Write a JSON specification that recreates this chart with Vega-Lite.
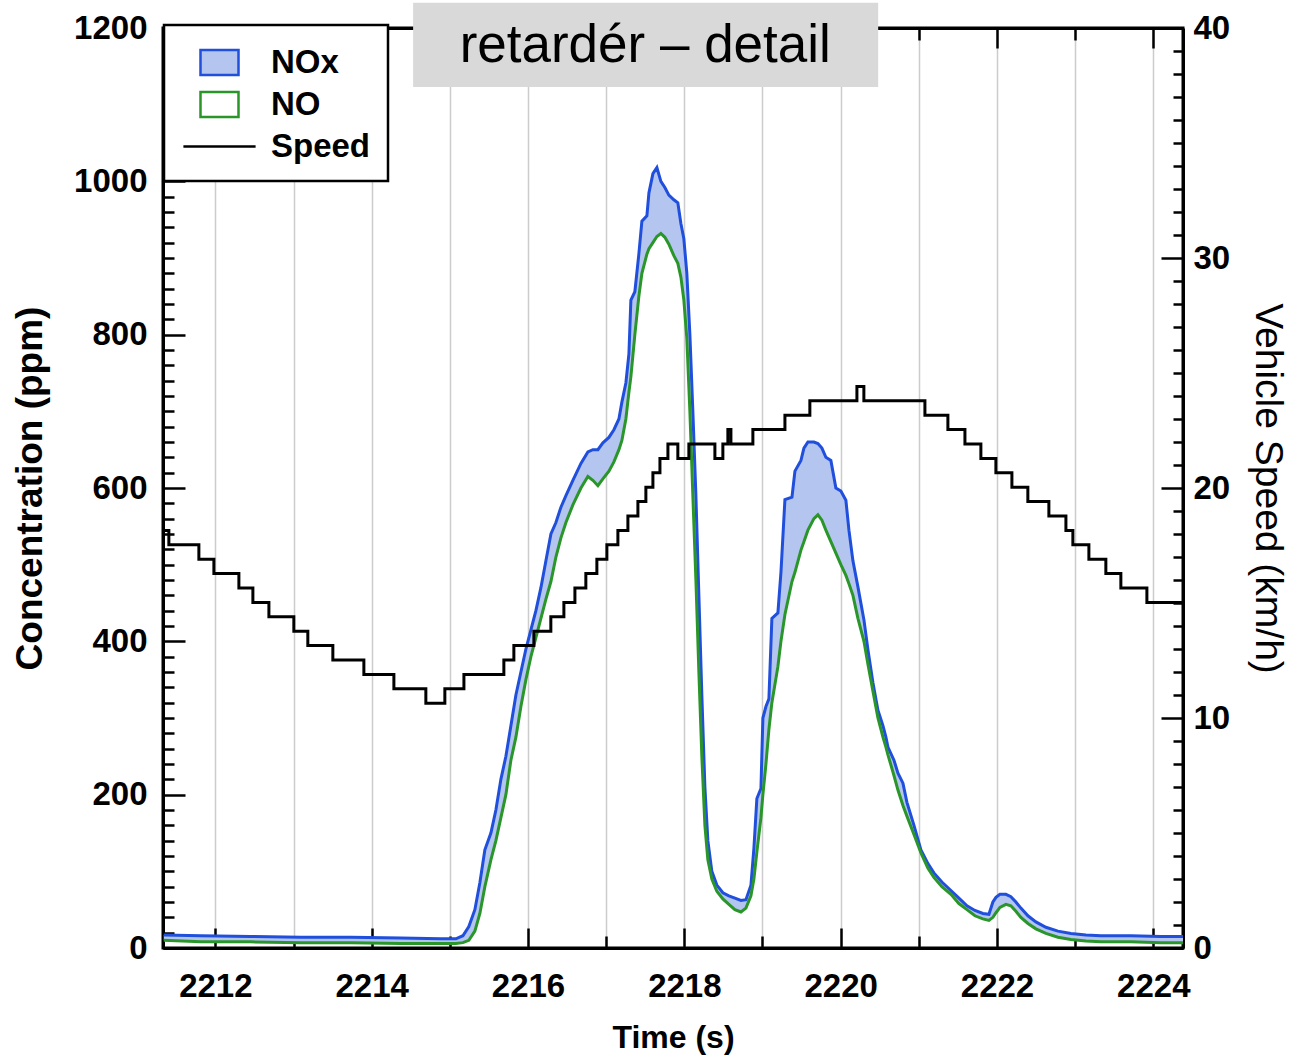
{
  "$schema": "https://vega.github.io/schema/vega-lite/v6.json",
  "width": 1020,
  "height": 920,
  "autosize": "none",
  "padding": {"left": 163, "top": 28, "right": 109, "bottom": 109},
  "background": "white",
  "config": {
    "view": {"stroke": "black", "strokeWidth": 3},
    "font": "Liberation Sans",
    "axis": {
      "labelFont": "Liberation Sans", "labelFontWeight": "bold", "labelFontSize": 33, "labelColor": "black",
      "titleFont": "Liberation Sans", "titleFontWeight": "bold", "titleColor": "black",
      "domainColor": "black", "domainWidth": 3, "tickColor": "black", "tickWidth": 2.5,
      "labelOverlap": false, "labelFlush": false, "grid": false
    },
    "legend": {"strokeWidth": 2.5}
  },
  "datasets": {
    "conc": [
      {"t": 2211.34, "NOx": 17, "NO": 10},
      {"t": 2211.814, "NOx": 16, "NO": 8},
      {"t": 2212.454, "NOx": 15, "NO": 8},
      {"t": 2213.094, "NOx": 14, "NO": 7},
      {"t": 2213.734, "NOx": 14, "NO": 7},
      {"t": 2214.373, "NOx": 13, "NO": 6},
      {"t": 2214.885, "NOx": 12, "NO": 6},
      {"t": 2215.077, "NOx": 12, "NO": 6},
      {"t": 2215.167, "NOx": 16, "NO": 7},
      {"t": 2215.243, "NOx": 28, "NO": 10},
      {"t": 2215.32, "NOx": 50, "NO": 22},
      {"t": 2215.384, "NOx": 85, "NO": 45},
      {"t": 2215.448, "NOx": 128, "NO": 80},
      {"t": 2215.525, "NOx": 150, "NO": 115},
      {"t": 2215.589, "NOx": 180, "NO": 140},
      {"t": 2215.653, "NOx": 220, "NO": 170},
      {"t": 2215.717, "NOx": 250, "NO": 200},
      {"t": 2215.781, "NOx": 290, "NO": 245},
      {"t": 2215.845, "NOx": 330, "NO": 275},
      {"t": 2215.909, "NOx": 360, "NO": 315},
      {"t": 2215.973, "NOx": 390, "NO": 350},
      {"t": 2216.037, "NOx": 415, "NO": 380},
      {"t": 2216.101, "NOx": 440, "NO": 405},
      {"t": 2216.165, "NOx": 470, "NO": 430},
      {"t": 2216.229, "NOx": 505, "NO": 455},
      {"t": 2216.293, "NOx": 540, "NO": 478},
      {"t": 2216.357, "NOx": 555, "NO": 510},
      {"t": 2216.421, "NOx": 575, "NO": 535},
      {"t": 2216.485, "NOx": 590, "NO": 555},
      {"t": 2216.574, "NOx": 610, "NO": 578},
      {"t": 2216.677, "NOx": 632, "NO": 600},
      {"t": 2216.766, "NOx": 647, "NO": 615},
      {"t": 2216.83, "NOx": 650, "NO": 610},
      {"t": 2216.894, "NOx": 650, "NO": 603},
      {"t": 2216.958, "NOx": 659, "NO": 612},
      {"t": 2217.035, "NOx": 666, "NO": 622},
      {"t": 2217.099, "NOx": 676, "NO": 634},
      {"t": 2217.163, "NOx": 690, "NO": 650},
      {"t": 2217.201, "NOx": 712, "NO": 662},
      {"t": 2217.252, "NOx": 737, "NO": 690},
      {"t": 2217.291, "NOx": 775, "NO": 725},
      {"t": 2217.316, "NOx": 845, "NO": 745},
      {"t": 2217.367, "NOx": 856, "NO": 800},
      {"t": 2217.418, "NOx": 905, "NO": 850},
      {"t": 2217.457, "NOx": 948, "NO": 880},
      {"t": 2217.521, "NOx": 955, "NO": 905},
      {"t": 2217.547, "NOx": 985, "NO": 912},
      {"t": 2217.598, "NOx": 1010, "NO": 920},
      {"t": 2217.649, "NOx": 1018, "NO": 928},
      {"t": 2217.7, "NOx": 1000, "NO": 932},
      {"t": 2217.751, "NOx": 992, "NO": 927},
      {"t": 2217.802, "NOx": 982, "NO": 918},
      {"t": 2217.866, "NOx": 976, "NO": 903},
      {"t": 2217.917, "NOx": 972, "NO": 893},
      {"t": 2217.956, "NOx": 945, "NO": 875},
      {"t": 2217.994, "NOx": 925, "NO": 845},
      {"t": 2218.032, "NOx": 880, "NO": 795},
      {"t": 2218.071, "NOx": 800, "NO": 700},
      {"t": 2218.109, "NOx": 700, "NO": 590},
      {"t": 2218.148, "NOx": 590, "NO": 480},
      {"t": 2218.186, "NOx": 460, "NO": 360},
      {"t": 2218.224, "NOx": 330, "NO": 250},
      {"t": 2218.263, "NOx": 210, "NO": 160},
      {"t": 2218.301, "NOx": 140, "NO": 115},
      {"t": 2218.352, "NOx": 100, "NO": 90},
      {"t": 2218.416, "NOx": 82, "NO": 74},
      {"t": 2218.493, "NOx": 72, "NO": 64},
      {"t": 2218.57, "NOx": 68, "NO": 57},
      {"t": 2218.647, "NOx": 65, "NO": 50},
      {"t": 2218.724, "NOx": 62, "NO": 47},
      {"t": 2218.788, "NOx": 63, "NO": 52},
      {"t": 2218.852, "NOx": 82, "NO": 68},
      {"t": 2218.89, "NOx": 130, "NO": 90},
      {"t": 2218.928, "NOx": 195, "NO": 125},
      {"t": 2218.98, "NOx": 208, "NO": 170},
      {"t": 2219.005, "NOx": 300, "NO": 200},
      {"t": 2219.044, "NOx": 315, "NO": 240},
      {"t": 2219.082, "NOx": 325, "NO": 285},
      {"t": 2219.12, "NOx": 430, "NO": 320},
      {"t": 2219.197, "NOx": 437, "NO": 367},
      {"t": 2219.236, "NOx": 490, "NO": 400},
      {"t": 2219.287, "NOx": 585, "NO": 435},
      {"t": 2219.377, "NOx": 588, "NO": 478},
      {"t": 2219.415, "NOx": 622, "NO": 490},
      {"t": 2219.492, "NOx": 636, "NO": 519},
      {"t": 2219.53, "NOx": 652, "NO": 530},
      {"t": 2219.581, "NOx": 660, "NO": 545},
      {"t": 2219.658, "NOx": 660, "NO": 560},
      {"t": 2219.709, "NOx": 658, "NO": 565},
      {"t": 2219.76, "NOx": 652, "NO": 558},
      {"t": 2219.811, "NOx": 640, "NO": 545},
      {"t": 2219.875, "NOx": 636, "NO": 530},
      {"t": 2219.939, "NOx": 600, "NO": 515},
      {"t": 2220.003, "NOx": 596, "NO": 500},
      {"t": 2220.067, "NOx": 584, "NO": 486},
      {"t": 2220.106, "NOx": 545, "NO": 475},
      {"t": 2220.157, "NOx": 505, "NO": 460},
      {"t": 2220.221, "NOx": 471, "NO": 430},
      {"t": 2220.298, "NOx": 428, "NO": 400},
      {"t": 2220.349, "NOx": 389, "NO": 370},
      {"t": 2220.413, "NOx": 346, "NO": 335},
      {"t": 2220.477, "NOx": 310, "NO": 300},
      {"t": 2220.541, "NOx": 290, "NO": 275},
      {"t": 2220.579, "NOx": 275, "NO": 262},
      {"t": 2220.605, "NOx": 262, "NO": 252},
      {"t": 2220.682, "NOx": 245, "NO": 225},
      {"t": 2220.733, "NOx": 228, "NO": 206},
      {"t": 2220.797, "NOx": 215, "NO": 186},
      {"t": 2220.848, "NOx": 190, "NO": 172},
      {"t": 2220.938, "NOx": 160, "NO": 148},
      {"t": 2221.027, "NOx": 128, "NO": 124},
      {"t": 2221.117, "NOx": 110, "NO": 104},
      {"t": 2221.193, "NOx": 98, "NO": 92},
      {"t": 2221.295, "NOx": 86, "NO": 80},
      {"t": 2221.411, "NOx": 75, "NO": 70},
      {"t": 2221.513, "NOx": 65, "NO": 58},
      {"t": 2221.616, "NOx": 55, "NO": 50},
      {"t": 2221.718, "NOx": 49, "NO": 42},
      {"t": 2221.82, "NOx": 45, "NO": 38},
      {"t": 2221.897, "NOx": 44, "NO": 36},
      {"t": 2221.948, "NOx": 60, "NO": 40},
      {"t": 2221.987, "NOx": 66, "NO": 46},
      {"t": 2222.038, "NOx": 70, "NO": 53},
      {"t": 2222.114, "NOx": 70, "NO": 57},
      {"t": 2222.178, "NOx": 67, "NO": 55},
      {"t": 2222.242, "NOx": 60, "NO": 48},
      {"t": 2222.306, "NOx": 52, "NO": 40},
      {"t": 2222.396, "NOx": 42, "NO": 32},
      {"t": 2222.498, "NOx": 34, "NO": 25},
      {"t": 2222.626, "NOx": 27, "NO": 19},
      {"t": 2222.78, "NOx": 22, "NO": 14},
      {"t": 2222.946, "NOx": 19, "NO": 11},
      {"t": 2223.138, "NOx": 17, "NO": 9},
      {"t": 2223.33, "NOx": 16, "NO": 8},
      {"t": 2223.714, "NOx": 16, "NO": 8},
      {"t": 2224.097, "NOx": 15, "NO": 7},
      {"t": 2224.38, "NOx": 15, "NO": 7}
    ],
    "speed": [
      {"t": 2211.33, "speed": 18.15},
      {"t": 2211.405, "speed": 17.53},
      {"t": 2211.789, "speed": 16.9},
      {"t": 2211.981, "speed": 16.28},
      {"t": 2212.301, "speed": 15.65},
      {"t": 2212.48, "speed": 15.02},
      {"t": 2212.685, "speed": 14.4},
      {"t": 2213.004, "speed": 13.77},
      {"t": 2213.183, "speed": 13.15},
      {"t": 2213.503, "speed": 12.52},
      {"t": 2213.9, "speed": 11.89},
      {"t": 2214.284, "speed": 11.27},
      {"t": 2214.693, "speed": 10.64},
      {"t": 2214.936, "speed": 11.27},
      {"t": 2215.18, "speed": 11.89},
      {"t": 2215.691, "speed": 12.52},
      {"t": 2215.819, "speed": 13.15},
      {"t": 2216.075, "speed": 13.77},
      {"t": 2216.292, "speed": 14.4},
      {"t": 2216.459, "speed": 15.02},
      {"t": 2216.6, "speed": 15.65},
      {"t": 2216.74, "speed": 16.28},
      {"t": 2216.881, "speed": 16.9},
      {"t": 2217.009, "speed": 17.53},
      {"t": 2217.15, "speed": 18.15},
      {"t": 2217.278, "speed": 18.78},
      {"t": 2217.406, "speed": 19.41},
      {"t": 2217.508, "speed": 20.03},
      {"t": 2217.598, "speed": 20.66},
      {"t": 2217.688, "speed": 21.28},
      {"t": 2217.79, "speed": 21.91},
      {"t": 2217.917, "speed": 21.28},
      {"t": 2218.058, "speed": 21.91},
      {"t": 2218.391, "speed": 21.28},
      {"t": 2218.493, "speed": 21.91},
      {"t": 2218.557, "speed": 22.54},
      {"t": 2218.596, "speed": 21.91},
      {"t": 2218.877, "speed": 22.54},
      {"t": 2219.287, "speed": 23.16},
      {"t": 2219.606, "speed": 23.79},
      {"t": 2220.208, "speed": 24.41},
      {"t": 2220.297, "speed": 23.79},
      {"t": 2221.078, "speed": 23.16},
      {"t": 2221.372, "speed": 22.54},
      {"t": 2221.59, "speed": 21.91},
      {"t": 2221.794, "speed": 21.28},
      {"t": 2221.986, "speed": 20.66},
      {"t": 2222.191, "speed": 20.03},
      {"t": 2222.395, "speed": 19.41},
      {"t": 2222.664, "speed": 18.78},
      {"t": 2222.882, "speed": 18.15},
      {"t": 2222.971, "speed": 17.53},
      {"t": 2223.176, "speed": 16.9},
      {"t": 2223.393, "speed": 16.28},
      {"t": 2223.585, "speed": 15.65},
      {"t": 2223.918, "speed": 15.02},
      {"t": 2224.38, "speed": 15.02}
    ]
  },
  "resolve": {"scale": {"y": "independent"}},
  "layer": [
    {
      "data": {"name": "conc"},
      "mark": {"type": "area", "opacity": 1},
      "encoding": {
        "x": {
          "field": "t", "type": "quantitative",
          "scale": {"domain": [2211.33, 2224.38], "nice": false, "zero": false},
          "axis": {
            "orient": "bottom",
            "values": [2212, 2213, 2214, 2215, 2216, 2217, 2218, 2219, 2220, 2221, 2222, 2223, 2224],
            "format": "d",
            "labelExpr": "datum.value % 2 === 0 ? datum.label : ''",
            "tickSize": {"condition": {"test": "datum.value % 2 === 0", "value": -20}, "value": -12},
            "labelPadding": 42,
            "title": "Time (s)", "titleFontSize": 32, "titlePadding": 11,
            "grid": true, "gridColor": "#cccccc", "gridWidth": 1.5
          }
        },
        "y": {
          "field": "NOx", "type": "quantitative",
          "scale": {"domain": [0, 1200], "nice": false, "zero": false},
          "axis": {
            "orient": "left",
            "values": [0, 20, 40, 60, 80, 100, 120, 140, 160, 180, 200, 220, 240, 260, 280, 300, 320, 340, 360, 380, 400, 420, 440, 460, 480, 500, 520, 540, 560, 580, 600, 620, 640, 660, 680, 700, 720, 740, 760, 780, 800, 820, 840, 860, 880, 900, 920, 940, 960, 980, 1000, 1020, 1040, 1060, 1080, 1100, 1120, 1140, 1160, 1180, 1200],
            "format": "d",
            "labelExpr": "datum.value % 200 === 0 ? datum.label : ''",
            "tickSize": {"condition": {"test": "datum.value % 200 === 0", "value": -22}, "value": -11},
            "labelPadding": 38,
            "title": "Concentration (ppm)", "titleFontSize": 37, "titlePadding": 24
          }
        },
        "y2": {"field": "NO"},
        "fill": {
          "datum": "NOx", "type": "nominal",
          "scale": {"domain": ["NOx", "NO", "Speed"], "range": ["#b4c5ef", "#ffffff", "#ffffff"]},
          "legend": {
            "title": null, "orient": "none", "legendX": 1, "legendY": -3, "direction": "vertical",
            "symbolType": {"expr": "datum.value === 'Speed' ? 'M-1.9,0H1.9' : 'M-1,-0.66H1V0.66H-1Z'"},
            "symbolSize": 1444, "symbolStrokeWidth": 2.5, "symbolOffset": 18,
            "labelFont": "Liberation Sans", "labelFontSize": 33, "labelFontWeight": "bold", "labelColor": "black",
            "labelOffset": 31, "padding": 17, "rowPadding": 3,
            "strokeColor": "black", "fillColor": "white"
          }
        }
      }
    },
    {
      "data": {"name": "conc"},
      "mark": {"type": "line", "strokeWidth": 3},
      "encoding": {
        "x": {
          "field": "t", "type": "quantitative",
          "axis": {
            "orient": "top",
            "values": [2212, 2213, 2214, 2215, 2216, 2217, 2218, 2219, 2220, 2221, 2222, 2223, 2224],
            "labels": false, "title": null, "grid": false,
            "tickSize": {"condition": {"test": "datum.value % 2 === 0", "value": -20}, "value": -12}
          }
        },
        "y": {"field": "NOx", "type": "quantitative", "scale": {"domain": [0, 1200], "nice": false, "zero": false}, "axis": null},
        "stroke": {
          "datum": "NOx", "type": "nominal",
          "scale": {"domain": ["NOx", "NO", "Speed"], "range": ["#1f4fdc", "#2a962a", "#000000"]},
          "legend": {
            "title": null, "orient": "none", "legendX": 1, "legendY": -3, "direction": "vertical",
            "symbolType": {"expr": "datum.value === 'Speed' ? 'M-1.9,0H1.9' : 'M-1,-0.66H1V0.66H-1Z'"},
            "symbolSize": 1444, "symbolStrokeWidth": 2.5, "symbolOffset": 18,
            "labelFont": "Liberation Sans", "labelFontSize": 33, "labelFontWeight": "bold", "labelColor": "black",
            "labelOffset": 31, "padding": 17, "rowPadding": 3,
            "strokeColor": "black", "fillColor": "white"
          }
        }
      }
    },
    {
      "data": {"name": "conc"},
      "mark": {"type": "line", "strokeWidth": 3},
      "encoding": {
        "x": {"field": "t", "type": "quantitative", "axis": null},
        "y": {"field": "NO", "type": "quantitative", "scale": {"domain": [0, 1200], "nice": false, "zero": false}, "axis": null},
        "stroke": {"datum": "NO", "type": "nominal"}
      }
    },
    {
      "data": {"values": [{}]},
      "mark": {"type": "rect", "color": "#d9d9d9", "opacity": 1},
      "encoding": {
        "x": {"datum": 2214.53, "type": "quantitative", "axis": null},
        "x2": {"datum": 2220.48},
        "y": {"datum": 1123, "type": "quantitative", "scale": {"domain": [0, 1200], "nice": false, "zero": false}, "axis": null},
        "y2": {"datum": 1233}
      }
    },
    {
      "data": {"values": [{}]},
      "mark": {"type": "text", "text": "retardér – detail", "font": "Liberation Sans", "fontSize": 53, "color": "black", "align": "center", "baseline": "middle"},
      "encoding": {
        "x": {"datum": 2217.5, "type": "quantitative", "axis": null},
        "y": {"datum": 1177, "type": "quantitative", "scale": {"domain": [0, 1200], "nice": false, "zero": false}, "axis": null}
      }
    },
    {
      "data": {"name": "speed"},
      "mark": {"type": "line", "interpolate": "step-after", "strokeWidth": 3},
      "encoding": {
        "x": {"field": "t", "type": "quantitative", "axis": null},
        "y": {
          "field": "speed", "type": "quantitative",
          "scale": {"domain": [0, 40], "nice": false, "zero": false},
          "axis": {
            "orient": "right",
            "values": [0, 1, 2, 3, 4, 5, 6, 7, 8, 9, 10, 11, 12, 13, 14, 15, 16, 17, 18, 19, 20, 21, 22, 23, 24, 25, 26, 27, 28, 29, 30, 31, 32, 33, 34, 35, 36, 37, 38, 39, 40],
            "format": "d",
            "labelExpr": "datum.value % 10 === 0 ? datum.label : ''",
            "tickSize": {"condition": {"test": "datum.value % 10 === 0", "value": -22}, "value": -10},
            "labelPadding": 32,
            "title": "Vehicle Speed (km/h)", "titleFontSize": 39, "titleFontWeight": "normal", "titlePadding": 18
          }
        },
        "stroke": {"datum": "Speed", "type": "nominal"}
      }
    }
  ]
}
